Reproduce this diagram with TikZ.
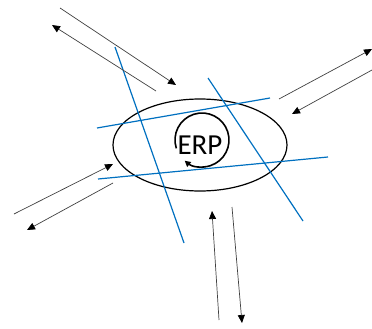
\documentclass[tikz,border=0pt]{standalone}
\usepackage{fontspec}
\setmainfont{Carlito}
\usetikzlibrary{arrows.meta,shapes.geometric}
\tikzset{
  flow/.style={draw=black!75, line width=0.7pt, -{Triangle[length=8pt,width=7pt,color=black]}},
  cut/.style={draw={rgb,255:red,0;green,112;blue,192}, line width=1.2pt},
}
\begin{document}
\begin{tikzpicture}[x=1pt,y=-1pt]
  \useasboundingbox (0,0) rectangle (372,329);
  \node[draw, ellipse, line width=1.2pt, minimum width=174pt, minimum height=92pt] (erp) at (200,145) {};
  \node[font=\fontsize{29}{29}\selectfont, inner sep=0pt] (lbl) at (200,145) {ERP};
  \draw[line width=1.6pt, -{Triangle[length=6pt,width=6pt]}] (202,140) ++(162:27) arc[start angle=162, end angle=490, radius=27];
  \coordinate (b1a) at (115,47);  \coordinate (b1b) at (184,243);
  \coordinate (b2a) at (208,78);  \coordinate (b2b) at (303,221);
  \coordinate (b3a) at (97,128);  \coordinate (b3b) at (270,98);
  \coordinate (b4a) at (98,179);  \coordinate (b4b) at (328,157);
  \draw[cut] (b1a) -- (b1b);
  \draw[cut] (b2a) -- (b2b);
  \draw[cut] (b3a) -- (b3b);
  \draw[cut] (b4a) -- (b4b);
  \coordinate (tl1) at (60,8);    \coordinate (tl2) at (176,85);
  \coordinate (tl3) at (156,91);  \coordinate (tl4) at (52,25);
  \coordinate (tr1) at (279,99);  \coordinate (tr2) at (372,49);
  \coordinate (tr3) at (372,70);  \coordinate (tr4) at (292,114);
  \coordinate (l1) at (14,214);   \coordinate (l2) at (113,164);
  \coordinate (l3) at (113,183);  \coordinate (l4) at (27,230);
  \coordinate (bt1) at (219,320); \coordinate (bt2) at (212,211);
  \coordinate (bt3) at (232,207); \coordinate (bt4) at (242,323);
  \draw[flow] (tl1) -- (tl2);
  \draw[flow] (tl3) -- (tl4);
  \draw[flow] (tr1) -- (tr2);
  \draw[flow] (tr3) -- (tr4);
  \draw[flow] (l1) -- (l2);
  \draw[flow] (l3) -- (l4);
  \draw[flow] (bt1) -- (bt2);
  \draw[flow] (bt3) -- (bt4);
\end{tikzpicture}
\end{document}
